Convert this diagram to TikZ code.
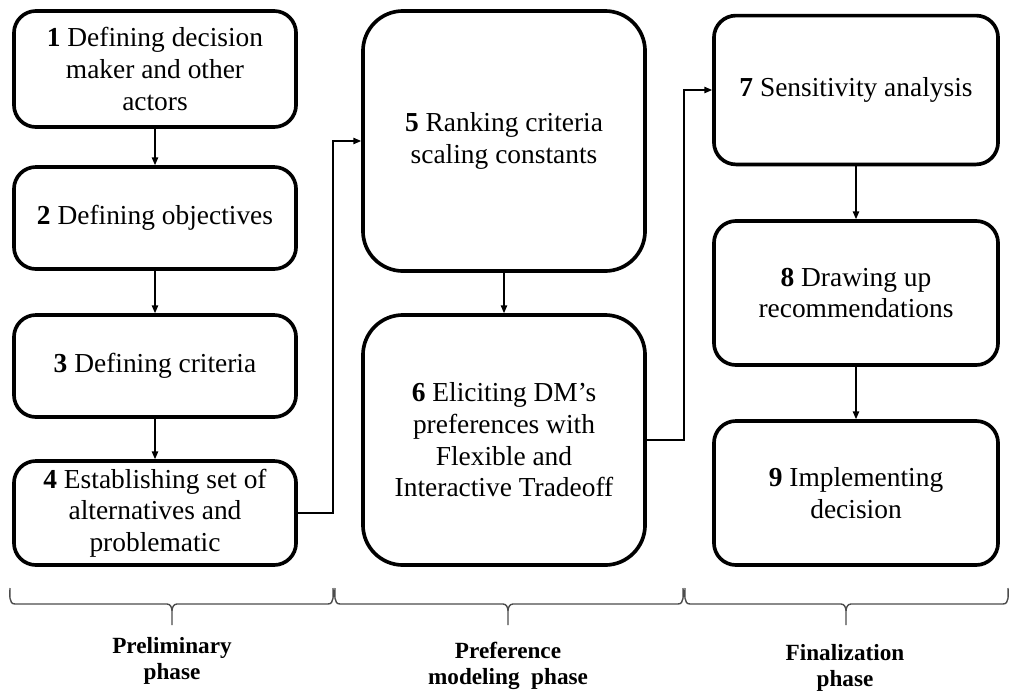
\documentclass[tikz,border=0pt]{standalone}
\usepackage{fontspec}
\setmainfont{Liberation Serif}
\usetikzlibrary{positioning,calc,arrows.meta}

\begin{document}
\begin{tikzpicture}[x=0.025cm,y=-0.025cm,
    stage/.style={rectangle,rounded corners=0.55cm,draw,line width=2.6pt,minimum width=7.05cm,align=center,inner sep=0pt,font=\fontsize{19.5}{22.5}\selectfont},
    bigstage/.style={stage,rounded corners=1cm},
    flow/.style={-{Triangle[length=5.5pt,width=4.5pt]},line width=0.9pt},
    phasebrace/.style={draw=black!70,line width=1pt},
    phaselabel/.style={align=center,font=\fontsize{16.5}{19}\selectfont\bfseries}]

\useasboundingbox (0,0) rectangle (1011,692);

% preliminary phase
\node[stage,minimum height=2.9cm] (s1) at (155,69) {\textbf{1} Defining decision\\maker and other\\actors};
\node[stage,minimum height=2.55cm] (s2) at (155,218) {\textbf{2} Defining objectives};
\node[stage,minimum height=2.55cm] (s3) at (155,366) {\textbf{3} Defining criteria};
\node[stage,minimum height=2.6cm] (s4) at (155,513) {\textbf{4} Establishing set of\\alternatives and\\problematic};

% preference modeling phase
\node[bigstage,minimum height=6.5cm] (s5) at (504,141) {\textbf{5} Ranking criteria\\scaling constants};
\node[bigstage,minimum height=6.25cm] (s6) at (504,440) {\textbf{6} Eliciting DM’s\\preferences with\\Flexible and\\Interactive Tradeoff};

% finalization phase
\node[stage,minimum width=7.1cm,minimum height=3.72cm] (s7) at (856,90) {\textbf{7} Sensitivity analysis};
\node[stage,minimum width=7.1cm,minimum height=3.6cm] (s8) at (856,293) {\textbf{8} Drawing up\\recommendations};
\node[stage,minimum width=7.1cm,minimum height=3.6cm] (s9) at (856,493) {\textbf{9} Implementing\\decision};

\draw[flow] (s1) -- (s2);
\draw[flow] (s2) -- (s3);
\draw[flow] (s3) -- (s4);
\draw[flow] (s4.east) -- ++(35,0) |- (s5.west);
\draw[flow] (s5) -- (s6);
\draw[flow] (s6.east) -- ++(37,0) |- (s7.west);
\draw[flow] (s7) -- (s8);
\draw[flow] (s8) -- (s9);

% braces
\foreach \a/\m/\b in {10/172/333, 335/508/683, 685/846/1008}
  \draw[phasebrace] (\a,588) to[out=-90,in=180] (\a+5,604) -- (\m-5,604) to[out=0,in=90] (\m,611) -- (\m,625)
    (\m,611) to[out=90,in=180] (\m+5,604) -- (\b-5,604) to[out=0,in=-90] (\b,588);

\node[phaselabel] (p1) at (172,661) {Preliminary\\phase};
\node[phaselabel] (p2) at (508,666) {Preference\\modeling\ \ phase};
\node[phaselabel] (p3) at (845,668) {Finalization\\phase};

\end{tikzpicture}
\end{document}
